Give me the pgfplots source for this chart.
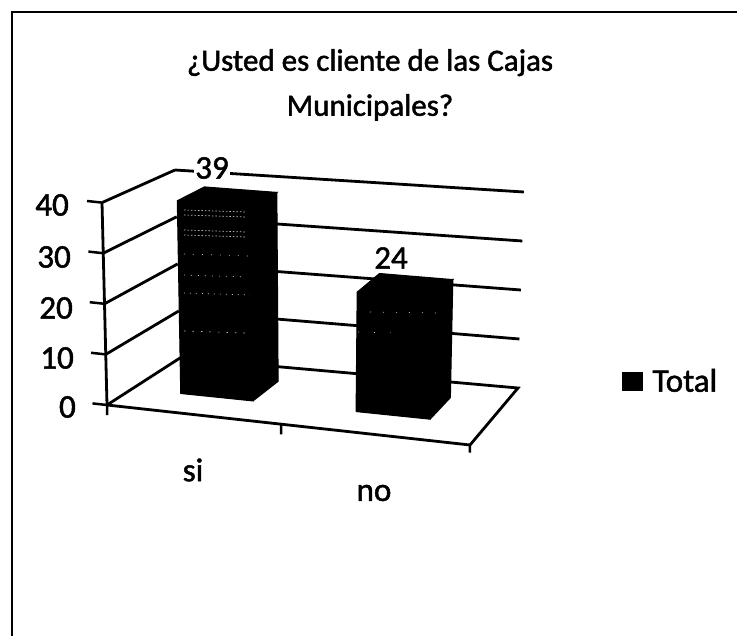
\documentclass[border=0pt]{standalone}
\usepackage{pgfplots}
\pgfplotsset{compat=1.18}
\usepackage{fontspec}
\setmainfont{Carlito}[FakeBold=1.5]
\newcommand\PX{107+363*\thisrow{u}+73*\thisrow{v}-25*\thisrow{u}*\thisrow{v}+(-0.125+0.27*\thisrow{u})*\thisrow{z}}
\newcommand\PY{405+40*\thisrow{u}-47*\thisrow{v}-10*\thisrow{u}*\thisrow{v}-(5.06-0.36*\thisrow{v}+0.2*\thisrow{u}*\thisrow{v})*\thisrow{z}}
\newcommand\pl[2]{\addplot[forget plot,#1] table[x expr=\PX,y expr=\PY,row sep=\\] {u v z\\ #2};}
\begin{document}
\begin{tikzpicture}[x=1pt,y=1pt]
\useasboundingbox (0,0) rectangle (740,636);
\begin{axis}[
  at={(0,0)},anchor=south west,
  scale only axis,width=740pt,height=636pt,
  xmin=0,xmax=740,ymin=0,ymax=636,y dir=reverse,
  clip=false,hide axis,
  legend style={at={(622/740,1-381/636)},anchor=west,draw=none,fill=none,font=\fontsize{33}{36}\selectfont,inner sep=0pt,column sep=8pt},
  legend image code/.code={\fill[black] (0pt,-9pt) rectangle (20pt,9pt);},
]
\tikzset{every node/.append style={font=\fontsize{33}{36}\selectfont,text=black}}
% floor and walls
\pl{black,line width=2.8pt}{0 0 0\\ 1 0 0\\ 1 1 0\\ 0 1 0\\ 0 0 0\\}
\pl{black,line width=2.8pt}{0 1 10\\ 1 1 10\\}
\pl{black,line width=2.8pt}{0 0 10\\ 0 1 10\\}
\pl{black,line width=2.8pt}{0 1 20\\ 1 1 20\\}
\pl{black,line width=2.8pt}{0 0 20\\ 0 1 20\\}
\pl{black,line width=2.8pt}{0 1 30\\ 1 1 30\\}
\pl{black,line width=2.8pt}{0 0 30\\ 0 1 30\\}
\pl{black,line width=2.8pt}{0 1 40\\ 1 1 40\\}
\pl{black,line width=2.8pt}{0 0 40\\ 0 1 40\\}
\pl{black,line width=2.8pt}{0 0 0\\ 0 0 40\\}
% ticks
\pl{black,line width=2.5pt}{-0.04 0 0\\ 0 0 0\\}
\pl{black,line width=2.5pt}{-0.04 0 10\\ 0 0 10\\}
\pl{black,line width=2.5pt}{-0.04 0 20\\ 0 0 20\\}
\pl{black,line width=2.5pt}{-0.04 0 30\\ 0 0 30\\}
\pl{black,line width=2.5pt}{-0.04 0 40\\ 0 0 40\\}
\pl{black,line width=2.5pt}{0 0 0\\ 0 0 -2\\}
\pl{black,line width=2.5pt}{0.48 0 0\\ 0.48 0 -2\\}
\pl{black,line width=2.5pt}{1 0 0\\ 1 0 -1.5\\}
% bars
\pl{fill=black,draw=black,line width=1pt}{0.136 0.35 0\\ 0.34 0.35 0\\ 0.34 0.35 39\\ 0.136 0.35 39\\ 0.136 0.35 0\\}
\pl{fill=black,draw=black,line width=1pt}{0.34 0.35 0\\ 0.34 0.74 0\\ 0.34 0.74 39\\ 0.34 0.35 39\\ 0.34 0.35 0\\}
\pl{fill=black,draw=black,line width=1pt}{0.136 0.35 39\\ 0.34 0.35 39\\ 0.34 0.74 39\\ 0.136 0.74 39\\ 0.136 0.35 39\\}
\pl{fill=black,draw=black,line width=1pt}{0.631 0.35 0\\ 0.84 0.35 0\\ 0.84 0.35 24\\ 0.631 0.35 24\\ 0.631 0.35 0\\}
\pl{fill=black,draw=black,line width=1pt}{0.84 0.35 0\\ 0.84 0.74 0\\ 0.84 0.74 24\\ 0.84 0.35 24\\ 0.84 0.35 0\\}
\pl{fill=black,draw=black,line width=1pt}{0.631 0.35 24\\ 0.84 0.35 24\\ 0.84 0.74 24\\ 0.631 0.74 24\\ 0.631 0.35 24\\}
% scan speckle on the bars
\addplot[forget plot,white!75!black,line width=.7pt,dash pattern=on 1.5pt off 2pt] coordinates {(184,210)(246,212)};
\addplot[forget plot,white!75!black,line width=.7pt,dash pattern=on 1.5pt off 2pt] coordinates {(184,215)(246,217)};
\addplot[forget plot,white!75!black,line width=.7pt,dash pattern=on 1.5pt off 2pt] coordinates {(184,230)(246,232)};
\addplot[forget plot,white!75!black,line width=.7pt,dash pattern=on 1.5pt off 2pt] coordinates {(184,235)(246,237)};
\addplot[forget plot,white!75!black,line width=.7pt,dash pattern=on 1pt off 8pt] coordinates {(184,254)(250,256)};
\addplot[forget plot,white!75!black,line width=.7pt,dash pattern=on 1pt off 6pt] coordinates {(184,275)(246,277)};
\addplot[forget plot,white!75!black,line width=.7pt,dash pattern=on 1pt off 5pt] coordinates {(184,293)(250,295)};
\addplot[forget plot,white!75!black,line width=.7pt,dash pattern=on 1.5pt off 7pt] coordinates {(184,331)(245,333)};
\addplot[forget plot,white!75!black,line width=.7pt,dash pattern=on 1pt off 12pt] coordinates {(370,312)(436,313)};
\addplot[forget plot,white!75!black,line width=.7pt,dash pattern=on 1pt off 15pt] coordinates {(358,332)(395,333)};
% frame
\addplot[forget plot,black,line width=2.4pt] coordinates {(12,636)(12,12)(737,12)};
% legend
\addlegendimage{black}
\addlegendentry{Total}
% texts
\node[align=center,font=\fontsize{31}{45}\selectfont] at (axis cs:370,85) {¿Usted es cliente de las Cajas\\Municipales?};
\node[fill=white,inner sep=1pt] at (axis cs:212,168) {39};
\node at (axis cs:391,258) {24};
\node[anchor=east,inner sep=0pt] at (axis cs:69,205) {40};
\node[anchor=east,inner sep=0pt] at (axis cs:71,257) {30};
\node[anchor=east,inner sep=0pt] at (axis cs:73,308) {20};
\node[anchor=east,inner sep=0pt] at (axis cs:74,358) {10};
\node[anchor=east,inner sep=0pt] at (axis cs:76,407) {0};
\node at (axis cs:193,470) {si};
\node at (axis cs:374,493) {no};
\end{axis}
\end{tikzpicture}
\end{document}
